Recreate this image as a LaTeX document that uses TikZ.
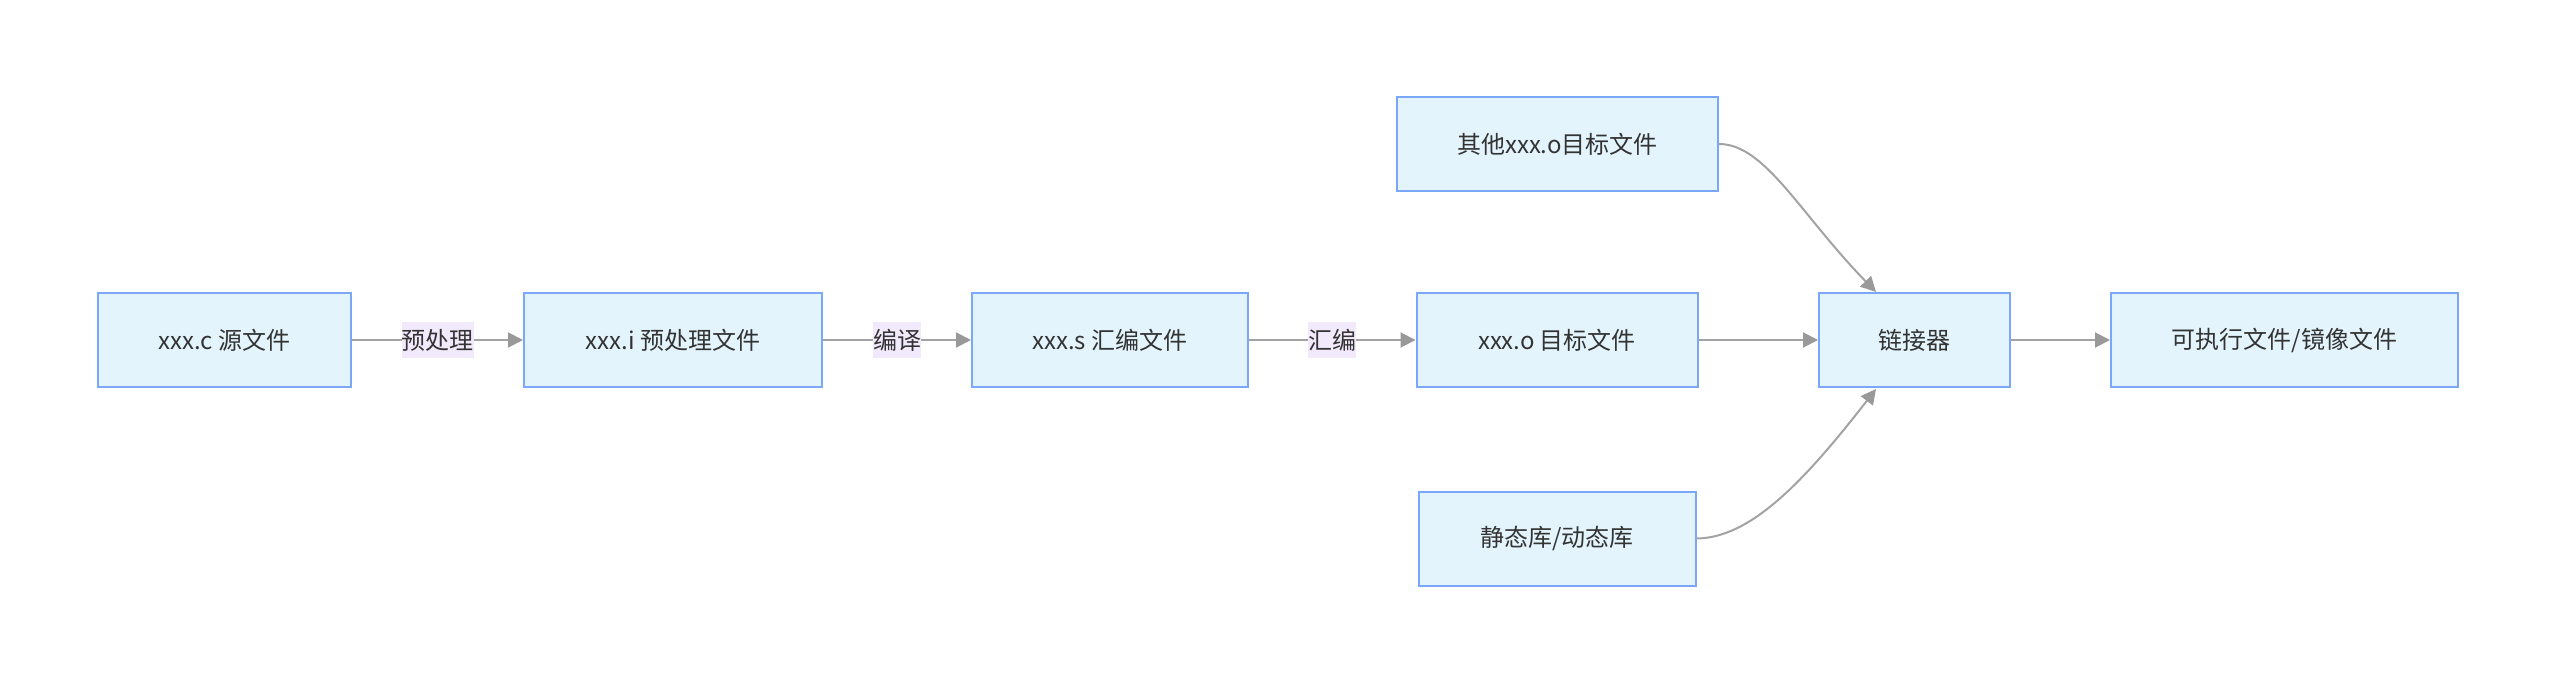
\documentclass[tikz,border=0pt]{standalone}
\usepackage{fontspec}
\setmainfont{Noto Sans CJK SC}
\usetikzlibrary{arrows.meta}
\definecolor{boxfill}{HTML}{E3F4FD}
\definecolor{boxline}{HTML}{7BA7FB}
\definecolor{edgecol}{HTML}{A3A3A3}
\definecolor{tipcol}{HTML}{999999}
\definecolor{lblbg}{HTML}{F2EAFC}
\definecolor{txt}{HTML}{333333}
\tikzset{
  procbox/.style={draw=boxline, fill=boxfill, line width=2pt, minimum height=94pt,
    inner sep=0pt, text=txt, font=\fontsize{24}{28}\selectfont},
  edgelbl/.style={fill=lblbg, text=txt, inner xsep=0pt, inner ysep=0pt,
    minimum height=36pt, font=\fontsize{24}{28}\selectfont},
  flow/.style={draw=edgecol, line width=2pt,
    -{Triangle[length=15pt,width=15pt,fill=tipcol,color=tipcol]}},
}
\begin{document}
\begin{tikzpicture}[x=1pt,y=-1pt]
\useasboundingbox (0,0) rectangle (2555,680);
\node[procbox, minimum width=253pt] (A) at (224.5,340) {xxx.c 源文件};
\node[procbox, minimum width=298pt] (B) at (673,340) {xxx.i 预处理文件};
\node[procbox, minimum width=276pt] (C) at (1110,340) {xxx.s 汇编文件};
\node[procbox, minimum width=281pt] (D) at (1557,340) {xxx.o 目标文件};
\node[procbox, minimum width=321pt] (E) at (1557.5,144) {其他xxx.o目标文件};
\node[procbox, minimum width=277pt] (F) at (1557,538.5) {静态库/动态库};
\node[procbox, minimum width=191pt] (L) at (1914.5,340) {链接器};
\node[procbox, minimum width=347pt] (X) at (2284.5,340) {可执行文件/镜像文件};

\draw[flow] (A) -- node[edgelbl] {预处理} (B);
\draw[flow] (B) -- node[edgelbl] {编译} (C);
\draw[flow] (C) -- node[edgelbl] {汇编} (D);
\draw[flow] (D) -- (L);
\draw[flow] (L) -- (X);
\coordinate (Ltop) at (1876,292);
\coordinate (Lbot) at (1876,389);
\draw[flow] (E.east) .. controls (1765,144) and (1800,214) .. (Ltop);
\draw[flow] (F.east) .. controls (1750,538) and (1803,483) .. (Lbot);
\end{tikzpicture}
\end{document}
